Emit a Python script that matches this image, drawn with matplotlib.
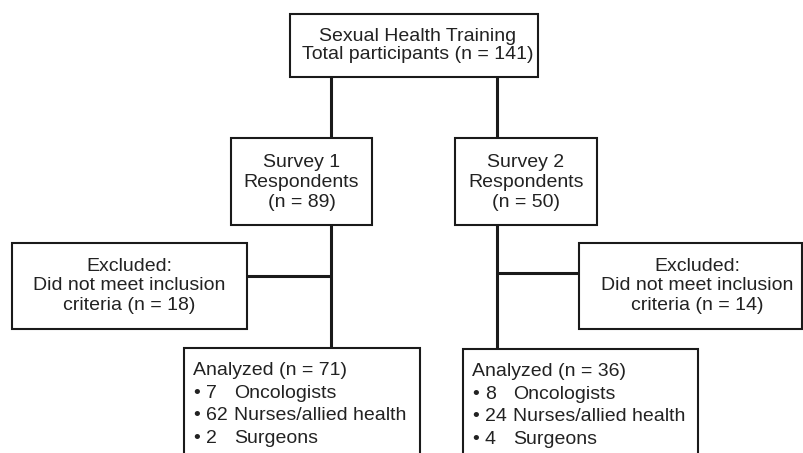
import matplotlib
matplotlib.use("Agg")
import matplotlib.pyplot as plt
from matplotlib.patches import Rectangle

plt.rcParams['font.family'] = ['Liberation Sans', 'DejaVu Sans']

# Flowchart data
total_n = 141
survey_names = ["Survey 1", "Survey 2"]
respondents_n = [89, 50]
excluded_n = [18, 14]
analyzed_n = [71, 36]
professions = ["Oncologists", "Nurses/allied health", "Surgeons"]
profession_counts = [[7, 62, 2], [8, 24, 4]]

W, H = 804, 453
fig = plt.figure(figsize=(W / 100, H / 100), dpi=100, facecolor='white')
ax = fig.add_axes([0, 0, 1, 1])
ax.set_xlim(0, W)
ax.set_ylim(H, 0)
ax.axis('off')

EDGE = '#1a1a1a'
TXT = '#222222'
FS = 14


def box(x0, y0, x1, y1):
    ax.add_patch(Rectangle((x0, y0), x1 - x0, y1 - y0, facecolor='white',
                           edgecolor=EDGE, linewidth=1.5, zorder=3,
                           clip_on=True))


def line(xs, ys):
    ax.plot(xs, ys, color=EDGE, linewidth=2.2, zorder=2,
            solid_capstyle='butt')


# layout (pixels)
top = (290, 14, 538, 77)
survey_boxes = [(231, 138, 372, 225), (455, 138, 597, 225)]
stem_x = [331, 497]
excl_boxes = [(12, 243, 247, 329), (579, 243, 802, 329)]
excl_text_x = [129.5, 697]
excl_join_y = [276, 273]
anal_boxes = [(184, 348, 420, 470), (463, 349, 698, 470)]

# connectors
for i in range(2):
    line([stem_x[i], stem_x[i]], [top[3], survey_boxes[i][1]])
    line([stem_x[i], stem_x[i]], [survey_boxes[i][3], anal_boxes[i][1]])
line([excl_boxes[0][2], stem_x[0]], [excl_join_y[0], excl_join_y[0]])
line([stem_x[1], excl_boxes[1][0]], [excl_join_y[1], excl_join_y[1]])

# top box
box(*top)
ax.text((top[0] + top[2]) / 2 + 4, (top[1] + top[3]) / 2,
        f"Sexual Health Training\nTotal participants (n = {total_n})",
        ha='center', va='center', fontsize=FS, color=TXT, linespacing=1.15,
        zorder=4)

for i in range(2):
    sb = survey_boxes[i]
    box(*sb)
    ax.text((sb[0] + sb[2]) / 2, (sb[1] + sb[3]) / 2 + 1,
            f"{survey_names[i]}\nRespondents\n(n = {respondents_n[i]})",
            ha='center', va='center', fontsize=FS, color=TXT,
            linespacing=1.2, zorder=4)

    eb = excl_boxes[i]
    box(*eb)
    ax.text(excl_text_x[i], (eb[1] + eb[3]) / 2,
            f"Excluded:\nDid not meet inclusion\ncriteria (n = {excluded_n[i]})",
            ha='center', va='center', fontsize=FS, color=TXT,
            linespacing=1.2, zorder=4)

    ab = anal_boxes[i]
    box(*ab)
    x0 = ab[0]
    base = ab[1] + 27
    ax.text(x0 + 9, base, f"Analyzed (n = {analyzed_n[i]})", ha='left',
            va='baseline', fontsize=FS, color=TXT, zorder=4)
    for j, (name, cnt) in enumerate(zip(professions, profession_counts[i])):
        y = base + 22.7 * (j + 1)
        ax.text(x0 + 9, y, "\u2022", ha='left', va='baseline',
                fontsize=FS, color=TXT, zorder=4)
        ax.text(x0 + 22, y, str(cnt), ha='left', va='baseline',
                fontsize=FS, color=TXT, zorder=4)
        ax.text(x0 + 50, y, name, ha='left', va='baseline',
                fontsize=FS, color=TXT, zorder=4)

fig.savefig("out.png", dpi=100, facecolor='white')
